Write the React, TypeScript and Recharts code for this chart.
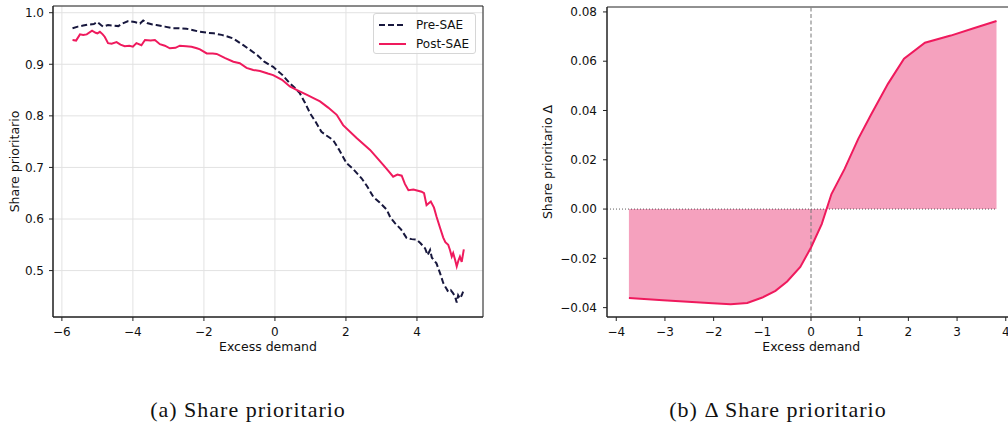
import {
  Area,
  CartesianGrid,
  ComposedChart,
  Label,
  Line,
  ReferenceArea,
  ReferenceLine,
  XAxis,
  YAxis,
} from "recharts";

// (a) Share prioritario by excess demand
const preX = [
  -5.7, -5.55, -5.4, -5.25, -5.1, -5.0, -4.9, -4.84, -4.7, -4.55, -4.41, -4.3, -4.13, -3.95, -3.8, -3.71, -3.6,
  -3.45, -3.34, -3.1, -2.87, -2.7, -2.49, -2.3, -2.11, -1.9, -1.73, -1.5, -1.3, -1.17, -1.0, -0.89, -0.7, -0.5,
  -0.3, -0.05, 0.2, 0.42, 0.55, 0.7, 0.85, 0.99, 1.15, 1.31, 1.45, 1.64, 1.8, 2.02, 2.2, 2.44, 2.6, 2.77, 2.95,
  3.15, 3.25, 3.38, 3.55, 3.71, 3.85, 3.99, 4.1, 4.23, 4.3, 4.37, 4.42, 4.55, 4.65, 4.74, 4.82, 4.88, 4.95, 5.02,
  5.08, 5.12, 5.16, 5.21, 5.26, 5.3,
];
const preY = [
  0.97, 0.973, 0.975, 0.977, 0.978, 0.982, 0.976, 0.973, 0.976, 0.975, 0.974, 0.979, 0.984, 0.982, 0.979, 0.985,
  0.98, 0.977, 0.976, 0.973, 0.97, 0.97, 0.969, 0.966, 0.963, 0.961, 0.96, 0.957, 0.953, 0.95, 0.942, 0.937, 0.928,
  0.918, 0.905, 0.895, 0.88, 0.863, 0.855, 0.844, 0.825, 0.805, 0.788, 0.769, 0.762, 0.753, 0.735, 0.708, 0.697,
  0.679, 0.663, 0.643, 0.632, 0.618, 0.603, 0.592, 0.58, 0.563, 0.561, 0.56, 0.553, 0.543, 0.53, 0.54, 0.525, 0.514,
  0.495, 0.476, 0.466, 0.459, 0.462, 0.456, 0.448, 0.438, 0.452, 0.446, 0.452, 0.459,
];
const postX = [
  -5.7, -5.6, -5.49, -5.4, -5.3, -5.15, -5.05, -5.0, -4.93, -4.85, -4.79, -4.7, -4.6, -4.46, -4.35, -4.23, -4.1,
  -4.0, -3.9, -3.76, -3.66, -3.5, -3.38, -3.24, -3.1, -2.96, -2.8, -2.68, -2.5, -2.35, -2.2, -2.11, -1.92, -1.75,
  -1.64, -1.4, -1.17, -0.99, -0.8, -0.61, -0.42, -0.2, -0.05, 0.2, 0.42, 0.65, 0.89, 1.1, 1.27, 1.5, 1.74, 1.92,
  2.3, 2.68, 3.05, 3.2, 3.33, 3.45, 3.57, 3.66, 3.76, 3.9, 4.13, 4.2, 4.27, 4.39, 4.48, 4.55, 4.65, 4.74, 4.8, 4.88,
  4.93, 4.98, 5.02, 5.07, 5.12, 5.17, 5.21, 5.26, 5.32,
];
const postY = [
  0.947, 0.946, 0.958, 0.957, 0.958, 0.965, 0.961, 0.96, 0.963, 0.958, 0.953, 0.941, 0.94, 0.943, 0.938, 0.935,
  0.936, 0.934, 0.941, 0.937, 0.947, 0.946, 0.947, 0.939, 0.936, 0.931, 0.932, 0.936, 0.935, 0.934, 0.931, 0.929,
  0.921, 0.921, 0.92, 0.912, 0.905, 0.902, 0.893, 0.889, 0.887, 0.882, 0.879, 0.87, 0.857, 0.849, 0.841, 0.834,
  0.828, 0.816, 0.802, 0.782, 0.757, 0.734, 0.705, 0.693, 0.682, 0.686, 0.684, 0.668, 0.656, 0.657, 0.653, 0.65,
  0.627, 0.634, 0.622, 0.605, 0.583, 0.564, 0.555, 0.55, 0.54, 0.527, 0.534, 0.522, 0.508, 0.52, 0.527, 0.517, 0.541,
];
const leftXTicks = [-6, -4, -2, 0, 2, 4];
const leftYTicks = [0.5, 0.6, 0.7, 0.8, 0.9, 1.0];

// (b) Delta share prioritario
const deltaX = [
  -3.74, -3.04, -2.02, -1.65, -1.31, -1.0, -0.73, -0.49, -0.22, 0.0, 0.22, 0.42, 0.69, 0.97, 1.24, 1.58, 1.91, 2.34,
  2.87, 3.34, 3.81,
];
const deltaY = [
  -0.0361, -0.037, -0.0382, -0.0386, -0.0381, -0.0359, -0.0332, -0.0294, -0.0235, -0.0156, -0.0061, 0.0061, 0.0163,
  0.0285, 0.0386, 0.0508, 0.061, 0.0675, 0.0704, 0.0734, 0.0763,
];
const rightXTicks = [-4, -3, -2, -1, 0, 1, 2, 3, 4];
const rightYTicks = [-0.04, -0.02, 0, 0.02, 0.04, 0.06, 0.08];

const preData = preX.map((x, i) => ({ x, y: preY[i] }));
const postData = postX.map((x, i) => ({ x, y: postY[i] }));
const deltaData = deltaX.map((x, i) => ({ x, delta: deltaY[i] }));

const NAVY = "#17173d";
const PINK = "#ef1a5d";
const AXIS = "#222";
const FONT = "'DejaVu Sans', sans-serif";
const tickStyle = { fill: "#111", fontSize: 12, fontFamily: FONT };

const minus = (s: string) => s.replace("-", "\u2212");

const leftXDomain: [number, number] = [-6.25, 5.86];
const leftYDomain: [number, number] = [0.41, 1.013];
const rightXDomain: [number, number] = [-4.19, 4.2];
const rightYDomain: [number, number] = [-0.0438, 0.082];

function yLabel(text: string, dx: number) {
  return (props: any) => {
    const vb = props.viewBox;
    const x = vb.x + dx;
    const y = vb.y + vb.height / 2;
    return (
      <text
        x={x}
        y={y}
        transform={`rotate(-90, ${x}, ${y})`}
        textAnchor="middle"
        dominantBaseline="central"
        fontSize={12.5}
        fontFamily={FONT}
        fill="#111"
      >
        {text}
      </text>
    );
  };
}

function LegendBox() {
  return (
    <div
      style={{
        position: "absolute",
        left: 373,
        top: 13,
        width: 103,
        height: 41,
        boxSizing: "border-box",
        border: "1px solid #d6d6d6",
        borderRadius: 3,
        background: "rgba(255,255,255,0.8)",
        fontFamily: FONT,
        fontSize: 12,
        color: "#111",
      }}
    >
      {[
        { name: "Pre-SAE", color: NAVY, dash: "6 3" },
        { name: "Post-SAE", color: PINK, dash: undefined },
      ].map((item, i) => (
        <div
          key={item.name}
          style={{ position: "absolute", left: 4, top: 2 + i * 19, height: 17, display: "flex", alignItems: "center" }}
        >
          <svg width={28} height={10}>
            <line x1={1} x2={28} y1={5} y2={5} stroke={item.color} strokeWidth={2} strokeDasharray={item.dash} />
          </svg>
          <span style={{ marginLeft: 10 }}>{item.name}</span>
        </div>
      ))}
    </div>
  );
}

function ShareChart() {
  return (
    <div style={{ position: "absolute", left: 0, top: 0 }}>
      <ComposedChart width={500} height={360} margin={{ top: 6, right: 17, bottom: 3, left: 13 }}>
        <CartesianGrid stroke="#e2e2e2" strokeWidth={1} />
        <XAxis
          type="number"
          dataKey="x"
          domain={leftXDomain}
          ticks={leftXTicks}
          allowDataOverflow
          height={40}
          tickSize={4}
          tickMargin={6}
          tick={tickStyle}
          stroke={AXIS}
          tickFormatter={(v: number) => minus(String(v))}
        >
          <Label value="Excess demand" position="insideBottom" offset={6} fontSize={12.5} fontFamily={FONT} fill="#111" />
        </XAxis>
        <YAxis
          type="number"
          domain={leftYDomain}
          ticks={leftYTicks}
          allowDataOverflow
          width={40}
          tickSize={4}
          tickMargin={5}
          tick={tickStyle}
          stroke={AXIS}
          tickFormatter={(v: number) => v.toFixed(1)}
        >
          <Label content={yLabel("Share prioritario", 1)} />
        </YAxis>
        <ReferenceArea
          x1={leftXDomain[0]}
          x2={leftXDomain[1]}
          y1={leftYDomain[0]}
          y2={leftYDomain[1]}
          fill="none"
          stroke={AXIS}
          strokeWidth={1}
          fillOpacity={0}
        />
        <Line
          data={preData}
          dataKey="y"
          name="Pre-SAE"
          type="linear"
          stroke={NAVY}
          strokeWidth={2}
          strokeDasharray="6 3"
          dot={false}
          isAnimationActive={false}
        />
        <Line
          data={postData}
          dataKey="y"
          name="Post-SAE"
          type="linear"
          stroke={PINK}
          strokeWidth={2}
          dot={false}
          isAnimationActive={false}
        />
      </ComposedChart>
      <LegendBox />
    </div>
  );
}

function DeltaChart() {
  return (
    <div style={{ position: "absolute", left: 541, top: 0 }}>
      <ComposedChart width={490} height={360} data={deltaData} margin={{ top: 7, right: 15.5, bottom: 3, left: 10 }}>
        <XAxis
          type="number"
          dataKey="x"
          domain={rightXDomain}
          ticks={rightXTicks}
          allowDataOverflow
          height={40}
          tickSize={4}
          tickMargin={6}
          tick={tickStyle}
          stroke={AXIS}
          tickFormatter={(v: number) => minus(String(v))}
        >
          <Label value="Excess demand" position="insideBottom" offset={6} fontSize={12.5} fontFamily={FONT} fill="#111" />
        </XAxis>
        <YAxis
          type="number"
          domain={rightYDomain}
          ticks={rightYTicks}
          allowDataOverflow
          width={56}
          tickSize={4}
          tickMargin={6}
          tick={tickStyle}
          stroke={AXIS}
          tickFormatter={(v: number) => minus(v.toFixed(2))}
        >
          <Label content={yLabel("Share prioritario \u0394", -4)} />
        </YAxis>
        <ReferenceArea
          x1={rightXDomain[0]}
          x2={rightXDomain[1]}
          y1={rightYDomain[0]}
          y2={rightYDomain[1]}
          fill="none"
          stroke={AXIS}
          strokeWidth={1}
          fillOpacity={0}
        />
        <Area
          dataKey="delta"
          type="linear"
          baseValue={0}
          fill="#f5a1be"
          fillOpacity={1}
          stroke="none"
          isAnimationActive={false}
        />
        <ReferenceLine
          segment={[
            { x: rightXDomain[0], y: 0 },
            { x: deltaX[deltaX.length - 1], y: 0 },
          ]}
          stroke="#333"
          strokeWidth={0.8}
          strokeDasharray="1 2"
        />
        <ReferenceLine x={0} stroke="#777" strokeWidth={1} strokeDasharray="4 2.5" />
        <Line dataKey="delta" type="linear" stroke={PINK} strokeWidth={2} dot={false} isAnimationActive={false} />
      </ComposedChart>
    </div>
  );
}

const captionStyle = {
  position: "absolute" as const,
  top: 398,
  width: 400,
  textAlign: "center" as const,
  fontFamily: "'Liberation Serif', serif",
  fontSize: 22,
  letterSpacing: 1,
  lineHeight: "24px",
  color: "#111",
};

export default function App() {
  return (
    <div
      style={{
        position: "fixed",
        left: 0,
        top: 0,
        width: 1008,
        height: 426,
        overflow: "hidden",
        background: "#fff",
      }}
    >
      <ShareChart />
      <DeltaChart />
      <div style={{ ...captionStyle, left: 48 }}>(a) Share prioritario</div>
      <div style={{ ...captionStyle, left: 578 }}>(b) {"\u0394"} Share prioritario</div>
    </div>
  );
}
